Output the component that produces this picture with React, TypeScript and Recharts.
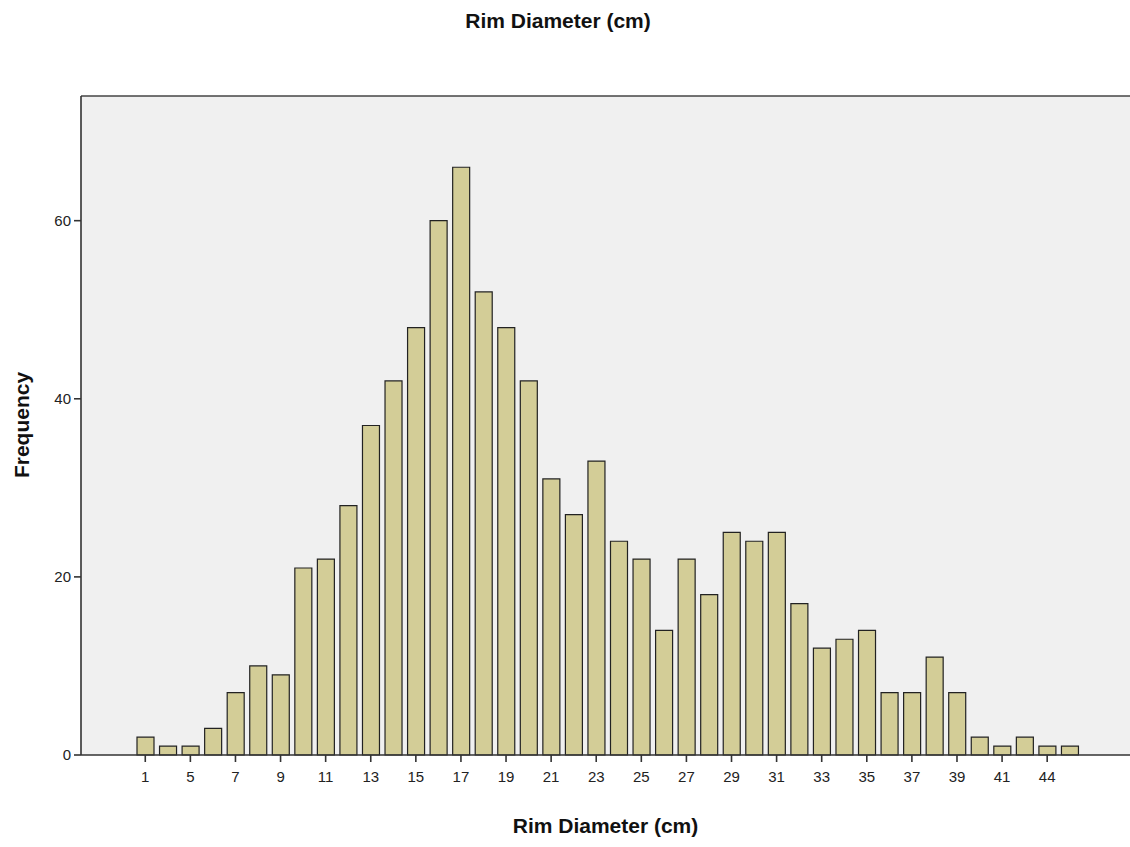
import { BarChart, Bar, XAxis, YAxis, CartesianGrid, ReferenceLine } from "recharts"

const diameters = [
  "1", "4", "5", "6", "7", "8", "9", "10", "11", "12", "13", "14", "15", "16", "17", "18", "19", "20", "21", "22",
  "23", "24", "25", "26", "27", "28", "29", "30", "31", "32", "33", "34", "35", "36", "37", "38", "39", "40", "41", "42",
  "44", "45",
]
const frequencies = [
  2, 1, 1, 3, 7, 10, 9, 21, 22, 28, 37, 42, 48, 60, 66, 52, 48, 42, 31, 27,
  33, 24, 22, 14, 22, 18, 25, 24, 25, 17, 12, 13, 14, 7, 7, 11, 7, 2, 1, 2,
  1, 1,
]
const yTicks = [0, 20, 40, 60]

const data = diameters.map((d, i) => ({ diameter: d, count: frequencies[i] }))

const font = "'Liberation Sans', Arial, sans-serif"

export default function App() {
  return (
    <div style={{ position: "absolute", left: 0, top: 0, width: 1130, height: 847, background: "#fff", fontFamily: font }}>
      <div style={{ position: "absolute", top: 9, left: 0, width: 1116, textAlign: "center", fontSize: 21, fontWeight: "bold", color: "#111" }}>
        Rim Diameter (cm)
      </div>
      <BarChart width={1130} height={847} data={data} margin={{ top: 96, right: 0, bottom: 62, left: 0 }}>
        <CartesianGrid horizontal={false} vertical={false} fill="#f0f0f0" />
        <XAxis
          dataKey="diameter"
          interval={1}
          height={30}
          padding={{ left: 53, right: 49 }}
          stroke="#333"
          strokeWidth={1.6}
          tickSize={7}
          tickMargin={9}
          tick={{ fill: "#222", fontSize: 15, fontFamily: font }}
        />
        <YAxis
          width={81}
          domain={[0, 74]}
          ticks={yTicks}
          stroke="#333"
          strokeWidth={1.6}
          tickSize={7}
          tickMargin={3}
          tick={{ fill: "#222", fontSize: 15, fontFamily: font }}
        />
        <ReferenceLine y={74} stroke="#444" strokeWidth={1.5} />
        <Bar dataKey="count" barSize={17} fill="#d3cd97" stroke="#222" strokeWidth={1.2} isAnimationActive={false} />
      </BarChart>
      <div style={{ position: "absolute", top: 814, left: 81, width: 1049, textAlign: "center", fontSize: 21, fontWeight: "bold", color: "#111" }}>
        Rim Diameter (cm)
      </div>
      <div
        style={{
          position: "absolute",
          left: 22,
          top: 425,
          transform: "translate(-50%, -50%) rotate(-90deg)",
          fontSize: 21,
          fontWeight: "bold",
          color: "#111",
          whiteSpace: "nowrap",
        }}
      >
        Frequency
      </div>
    </div>
  )
}
